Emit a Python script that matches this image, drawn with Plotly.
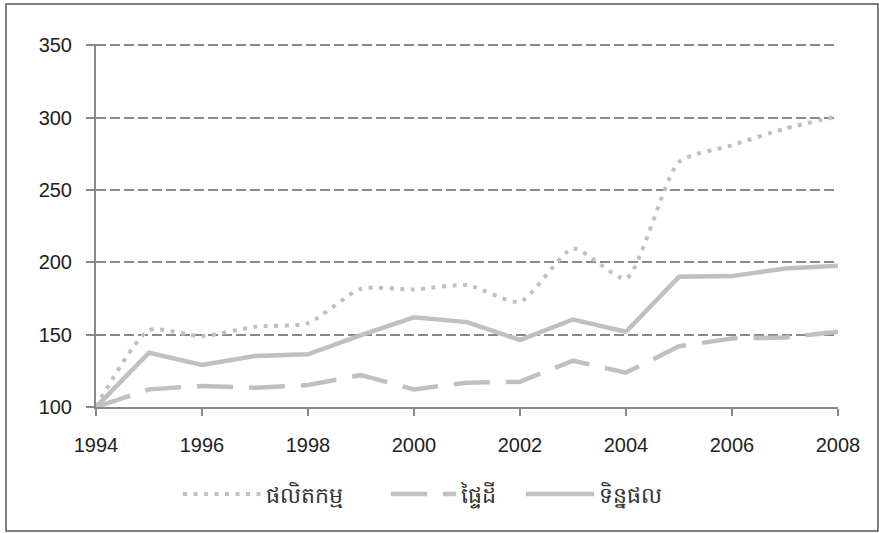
import plotly.graph_objects as go

years = list(range(1994, 2009))
production = [100, 153, 149, 155.5, 158, 181.7, 181.3, 184.3, 172.7, 209.6, 188.9, 269.4, 281, 292.5, 301]
area = [100, 112.2, 114.5, 113.3, 115.2, 122, 112.2, 116.8, 117.5, 132, 123.7, 142, 147.4, 148, 152]
yield_ = [100, 137.5, 129, 135.2, 136.4, 149.7, 162, 158.7, 146.3, 160.5, 152, 190, 190.5, 195.8, 197.6]
names = ["ផលិតកម្ម", "ផ្ទៃដី", "ទិន្នផល"]
x_ticks = [1994, 1996, 1998, 2000, 2002, 2004, 2006, 2008]
y_ticks = [100, 150, 200, 250, 300, 350]

line_color = "#c0c0c0"
axis_color = "#888888"
font_family = "Liberation Sans, Arial, sans-serif"

fig = go.Figure()
fig.add_trace(go.Scatter(x=years, y=production, name=names[0], mode="lines", legend="legend",
                         line=dict(color=line_color, width=4, dash="4px,6.5px", shape="spline", smoothing=0.6)))
fig.add_trace(go.Scatter(x=years, y=area, name=names[1], mode="lines", legend="legend2",
                         line=dict(color=line_color, width=4.5, dash="36px,16px")))
fig.add_trace(go.Scatter(x=years, y=yield_, name=names[2], mode="lines", legend="legend3",
                         line=dict(color=line_color, width=4.5)))

plot_left, plot_w = 96, 742


def legend_at(px, width):
    return dict(orientation="h", x=(px - plot_left) / plot_w, xanchor="left",
                y=-0.24, yanchor="middle", itemwidth=width,
                font=dict(size=22, color="#333333"), bgcolor="rgba(0,0,0,0)")


fig.update_layout(
    width=879, height=533,
    margin=dict(l=96, r=41, t=44, b=126),
    paper_bgcolor="white", plot_bgcolor="white",
    font=dict(family=font_family, size=20, color="#222222"),
    showlegend=True,
    legend=legend_at(178, 78),
    legend2=legend_at(386, 65),
    legend3=legend_at(521, 68),
    xaxis=dict(range=[1994, 2008], tickvals=x_ticks, showgrid=False,
               showline=True, linecolor=axis_color, linewidth=2,
               ticks="outside", ticklen=7, tickwidth=2, tickcolor=axis_color,
               ticklabelstandoff=12, zeroline=False),
    yaxis=dict(range=[100, 351], tickvals=y_ticks, showgrid=True,
               gridcolor=axis_color, gridwidth=1.8, griddash="10px,4px",
               showline=True, linecolor=axis_color, linewidth=2,
               ticks="outside", ticklen=8, tickwidth=2, tickcolor=axis_color,
               ticklabelstandoff=10, zeroline=False),
    shapes=[dict(type="rect", xref="paper", yref="paper",
                 x0=(6 - 96) / 742, x1=(878 - 96) / 742,
                 y0=(407 - 531) / 363, y1=(407 - 4) / 363,
                 line=dict(color="#555555", width=1.5), fillcolor="rgba(0,0,0,0)",
                 layer="below")],
)

fig.write_html("out.html", config={"displayModeBar": False},
               post_script="document.body.style.margin='0';")
